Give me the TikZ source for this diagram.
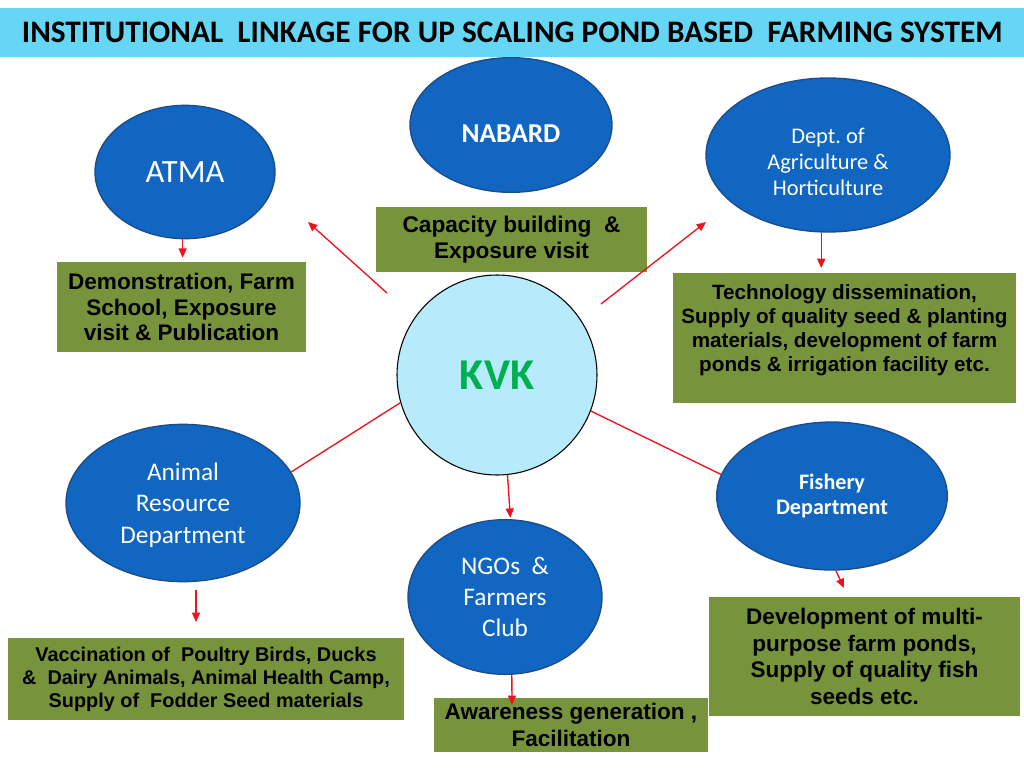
\documentclass[tikz,border=0pt]{standalone}
\usepackage{fontspec}
\setmainfont{Liberation Sans}
\newfontfamily\calib{Carlito}
\usetikzlibrary{shapes.geometric,arrows.meta}
\definecolor{titlebar}{RGB}{102,214,245}
\definecolor{ellblue}{RGB}{16,102,192}
\definecolor{ellborder}{RGB}{28,76,140}
\definecolor{kvkfill}{RGB}{183,234,250}
\definecolor{kvkgreen}{RGB}{0,176,80}
\definecolor{boxgreen}{RGB}{119,147,60}
\definecolor{arrred}{RGB}{235,20,30}
\newcommand{\fsz}[2]{\fontsize{#1}{#2}\selectfont}
\frenchspacing
\begin{document}
\begin{tikzpicture}[x=0.75pt,y=-0.75pt,
  ell/.style={ellipse,fill=ellblue,draw=ellborder,line width=1pt,text=white,inner sep=0pt,align=center},
  gbox/.style={rectangle,fill=boxgreen,inner sep=0pt,align=center,text=black},
  link/.style={draw=arrred,line width=1pt},
  arr/.style={link,-{Triangle[length=7pt,width=6pt]}}]

\useasboundingbox (0,0) rectangle (1024,768);
\fill[white] (0,0) rectangle (1024,768);

% title
\node[fill=titlebar,minimum width=768pt,minimum height=36.75pt,inner sep=0pt,anchor=north west,
      font=\calib\bfseries\fsz{23.5}{28}] (title) at (0,8)
  {INSTITUTIONAL\ \ LINKAGE FOR UP SCALING POND BASED\ \ FARMING SYSTEM};

% ellipses
\node[ell,minimum width=135pt,minimum height=100pt,font=\calib\fsz{24.4}{29}] (atma) at (185,172) {ATMA};
\node[ell,minimum width=151.5pt,minimum height=101pt,font=\calib\bfseries\fsz{20.5}{24}] (nabard) at (511,125)
  {\raisebox{-13.3pt}[0pt][0pt]{NABARD}};
\node[ell,minimum width=183pt,minimum height=115.5pt,font=\calib\fsz{16.8}{19.5}] (dept) at (828,155)
  {\raisebox{-11pt}[0pt][0pt]{\begin{tabular}{@{}c@{}}Dept. of\\ Agriculture \&\\ Horticulture\end{tabular}}};
\node[ell,minimum width=175.5pt,minimum height=118pt,font=\calib\fsz{19}{23.6}] (animal) at (183,503)
  {\raisebox{-6pt}[0pt][0pt]{\begin{tabular}{@{}c@{}}Animal\\ Resource\\ Department\end{tabular}}};
\node[ell,minimum width=145.5pt,minimum height=116pt,font=\calib\fsz{19}{23}] (ngo) at (505,597)
  {NGOs\ \ \&\\ Farmers\\ Club};
\node[ell,minimum width=173pt,minimum height=111pt,font=\calib\bfseries\fsz{16.6}{19}] (fishery) at (832,496)
  {Fishery\\ Department};

% KVK
\node[circle,fill=kvkfill,draw=black,line width=0.8pt,minimum size=150pt,inner sep=0pt,
      text=kvkgreen,font=\calib\bfseries\fsz{33}{38}] (kvk) at (497,375) {KVK};

% green boxes
\node[gbox,minimum width=186.75pt,minimum height=67.5pt,font=\bfseries\fsz{16.9}{19.2}] (atmabox) at (181.5,307)
  {Demonstration, Farm\\ School, Exposure\\ visit \& Publication};
\node[gbox,minimum width=203.25pt,minimum height=48.75pt,font=\bfseries\fsz{17}{19.5}] (nabardbox) at (511.5,239.5)
  {Capacity building\ \ \&\\ Exposure visit};
\node[gbox,minimum width=257.25pt,minimum height=97.5pt,font=\bfseries\fsz{15.5}{18}] (deptbox) at (844.5,338)
  {\raisebox{1.8pt}[0pt][0pt]{\begin{tabular}{@{}c@{}}Technology dissemination,\\ Supply of quality seed \& planting\\ materials, development of farm\\ ponds \& irrigation facility etc.\end{tabular}}};
\node[gbox,minimum width=297pt,minimum height=61.5pt,font=\bfseries\fsz{14.9}{17.25}] (animalbox) at (206,679)
  {Vaccination of\ \ Poultry Birds, Ducks\\ \&\ \ Dairy Animals, Animal Health Camp,\\ Supply of\ \ Fodder Seed materials};
\node[gbox,minimum width=205.5pt,minimum height=40.5pt,font=\bfseries\fsz{16.9}{20}] (ngobox) at (571,725)
  {Awareness generation ,\\ Facilitation};
\node[gbox,minimum width=233.25pt,minimum height=89.25pt,font=\bfseries\fsz{16.9}{20}] (fisherybox) at (864.5,656.5)
  {Development of multi-\\ purpose farm ponds,\\ Supply of quality fish\\ seeds etc.};

% free ends
\coordinate (kA) at (387,293);
\coordinate (tA) at (308,222);
\coordinate (kD) at (601,304);
\coordinate (tD) at (706,222);
\coordinate (aS) at (196,590);
\coordinate (aE) at (196,622);
\coordinate (fE) at (844,588);
\coordinate (nE) at (512,705);

% connectors
\draw[arr] (kA) -- (tA);
\draw[arr] (kD) -- (tD);
\draw[link] (kvk.196) -- (animal.16);
\draw[arr,shorten >=1pt] (kvk.-84) -- (ngo.86);
\draw[link] (kvk.-21) -- (fishery.169);
\draw[arr,shorten >=3pt] (atma.268) -- (atma.268 |- atmabox.north);
\draw[arr,shorten >=3.5pt] (dept.265) -- (dept.265 |- deptbox.north);
\draw[arr] (aS) -- (aE);
\draw[arr] (fishery.-87) -- (fE);
\draw[arr] (ngo.-85) -- (nE);
\end{tikzpicture}
\end{document}
